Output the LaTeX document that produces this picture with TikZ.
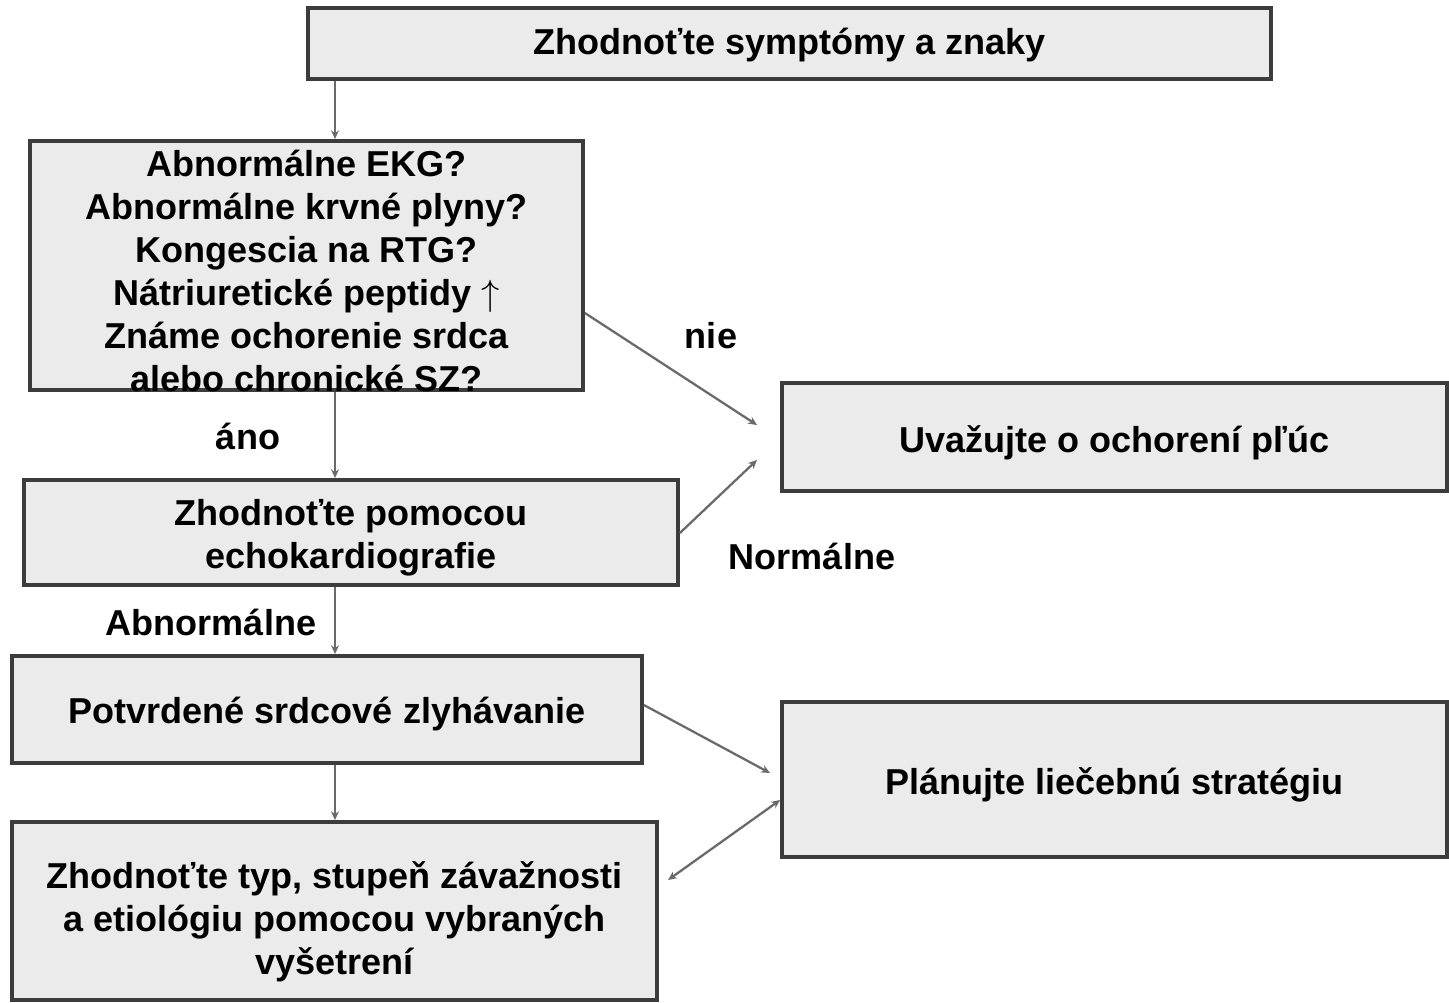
\documentclass[tikz,border=0pt]{standalone}
\usepackage{fontspec}
\setmainfont{Liberation Sans}
\usetikzlibrary{arrows.meta}
\definecolor{boxfill}{HTML}{EBEBEB}
\definecolor{boxline}{HTML}{3C3C3C}
\definecolor{linkgray}{HTML}{6A6A6A}
% box text, lowered a little inside its box (optional: trim of its height)
\newcommand{\lowtext}[3][0pt]{\raisebox{-#2}[\dimexpr\height-#1\relax][\dimexpr\depth-#1\relax]{\begin{tabular}{@{}c@{}}#3\end{tabular}}}
\tikzset{
  flowbox/.style={draw=boxline, line width=2.2pt, fill=boxfill,
    inner sep=0pt, font=\bfseries\fontsize{20.5}{24.4}\selectfont},
  link/.style={draw=linkgray, line width=1.3pt, -{Stealth[length=5pt,width=4.5pt]}},
  tag/.style={font=\bfseries\fontsize{20.5}{24.4}\selectfont, inner sep=0pt}
}
\begin{document}
\begin{tikzpicture}[x=0.02cm, y=-0.02cm]
    \useasboundingbox (0,0) rectangle (1449,1003);
    % boxes, left column
    \node [flowbox, minimum width=19.26cm, minimum height=1.42cm] (symp) at (789.5,43.5)
        {\lowtext{0.04cm}{Zhodnoťte symptómy a znaky}};
    \node [flowbox, minimum width=11.06cm, minimum height=4.98cm] (abn) at (306.5,265.5)
        {\lowtext[0.3cm]{0.2cm}{Abnormálne EKG?\\Abnormálne krvné plyny?\\Kongescia na RTG?\\Nátriuretické peptidy $\uparrow$\\Známe ochorenie srdca\\alebo chronické SZ?}};
    \node [flowbox, minimum width=13.08cm, minimum height=2.1cm] (echo) at (351,532.5)
        {\lowtext{0.11cm}{Zhodnoťte pomocou\\echokardiografie}};
    \node [flowbox, minimum width=12.6cm, minimum height=2.14cm] (hf) at (327,709.5)
        {\lowtext{0.1cm}{Potvrdené srdcové zlyhávanie}};
    \node [flowbox, minimum width=12.9cm, minimum height=3.56cm] (type) at (334.5,911)
        {\lowtext{0.24cm}{Zhodnoťte typ, stupeň závažnosti\\a etiológiu pomocou vybraných\\vyšetrení}};
    % boxes, right column
    \node [flowbox, minimum width=13.3cm, minimum height=2.16cm] (lung) at (1114.5,437)
        {\lowtext{0.14cm}{Uvažujte o ochorení pľúc}};
    \node [flowbox, minimum width=13.3cm, minimum height=3.1cm] (plan) at (1114.5,779.5)
        {\lowtext{0.12cm}{Plánujte liečebnú stratégiu}};
    % free ends of the side arrows
    \coordinate (spine) at (335,0);
    \coordinate (nieEnd) at (757,425);
    \coordinate (normEnd) at (757,460);
    \coordinate (hfEnd) at (770,773);
    \coordinate (typeEnd) at (668,880);
    \draw [link] (symp.south -| spine) -- (abn.north -| spine);
    \draw [link] (abn.south -| spine) -- (echo.north -| spine);
    \draw [link] (echo.south -| spine) -- (hf.north -| spine);
    \draw [link] (hf.south -| spine) -- (type.north -| spine);
    \draw [link] (abn.east |- 0,313) -- (nieEnd);
    \draw [link] (echo.east |- 0,533) -- (normEnd);
    \draw [link] (hf.east |- 0,705) -- (hfEnd);
    \draw [link, {Stealth[length=5pt,width=4.5pt]}-{Stealth[length=5pt,width=4.5pt]}] (plan.west |- 0,800) -- (typeEnd);
    \node [tag] (nie) at (711,336) {nie};
    \node [tag] (ano) at (248,436) {áno};
    \node [tag] (norm) at (812,556) {Normálne};
    \node [tag] (abnl) at (211,622) {Abnormálne};
\end{tikzpicture}
\end{document}
